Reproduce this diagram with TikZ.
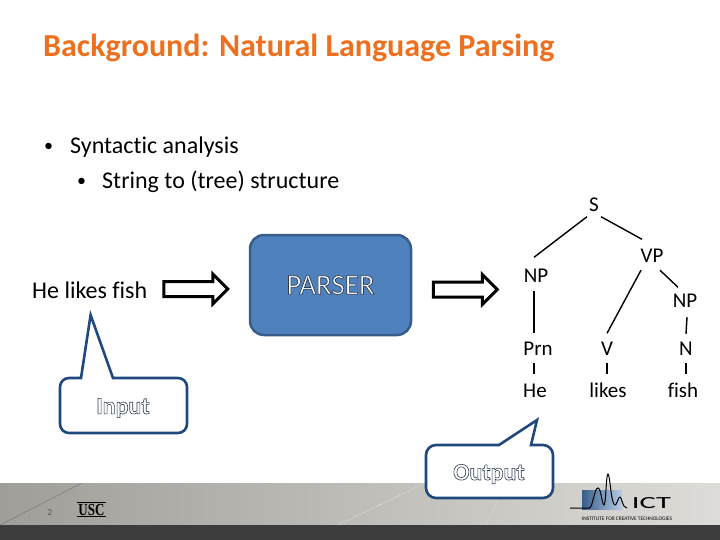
\documentclass[tikz,border=0pt]{standalone}
\usepackage{fontspec}
\setmainfont{Carlito}[Ligatures=NoCommon]
\newfontfamily\uscfont{Liberation Serif}
\usepackage{tikz}
\usetikzlibrary{positioning,shapes.arrows}
\definecolor{TitleOrange}{RGB}{238,112,30}
\definecolor{ParserBlue}{RGB}{79,129,189}
\definecolor{ParserEdge}{RGB}{56,93,138}
\definecolor{CalloutEdge}{RGB}{31,73,125}
\definecolor{StripDark}{RGB}{60,60,60}
\definecolor{BandDark}{RGB}{160,158,152}
\definecolor{BandMid}{RGB}{205,202,197}
\definecolor{BandLight}{RGB}{222,220,216}
\newcommand{\outlined}[2]{{\color{white}\special{pdf:code 2 Tr #1 w 0.18 0.24 0.32 RG}#2\special{pdf:code 0 Tr}}}
\tikzset{
  tree/.style={inner sep=3pt,text height=14pt,text depth=1pt,font=\fontsize{21}{23}\selectfont},
  treeline/.style={line width=1.4pt,draw=black},
  bodytext/.style={inner sep=0pt,anchor=west,font=\fontsize{24}{26}\selectfont},
  blockarrow/.style={single arrow,draw=black,fill=white,line width=3pt,inner xsep=0pt,inner ysep=6pt,
    minimum height=64pt,minimum width=27pt,single arrow head extend=7.5pt},
  callout/.style={draw=CalloutEdge,fill=white,line width=2.6pt},
  calloutword/.style={inner sep=0pt,font=\fontsize{24}{26}\selectfont\bfseries}
}
\begin{document}
\begin{tikzpicture}[x=1pt,y=-1pt]
  \useasboundingbox (0,0) rectangle (720,540);
  % footer band
  \shade[left color=BandDark,middle color=BandMid,right color=BandLight] (0,483) rectangle (720,525);
  \fill[StripDark] (0,525) rectangle (720,540);
  \draw[black!55,thin] (0,525) -- (82,483);
  \draw[white!85!black,thin] (338,525) -- (425,483);
  \draw[white!85!black,thin] (486,525) -- (506,483);
  % heading and bullets
  \node[bodytext,font=\fontsize{32}{34}\selectfont\bfseries,text=TitleOrange] (title) at (43,48) {Background: Natural Language Parsing};
  \node[bodytext,font=\fontsize{18}{20}\selectfont] (bulleta) at (44,147) {•};
  \node[bodytext] (linea) at (70,147) {Syntactic analysis};
  \node[bodytext,font=\fontsize{18}{20}\selectfont] (bulletb) at (77,182) {•};
  \node[bodytext] (lineb) at (102,182) {String to (tree) structure};
  % parser row
  \node[bodytext] (sentence) at (32,290) {He likes fish};
  \node[draw=ParserEdge,fill=ParserBlue,line width=2.5pt,rounded corners=14pt,
    minimum width=161pt,minimum height=100pt,font=\fontsize{29}{31}\selectfont] (parser) at (330.5,285) {\outlined{0.7}{PARSER}};
  \node[blockarrow] (arrowin) at (192,289) {};
  \node[blockarrow] (arrowout) at (461.5,289.5) {};
  % tree
  \node[tree] (s) at (594,205) {S};
  \node[tree] (np) at (536,276) {NP};
  \node[tree] (vp) at (652,256) {VP};
  \node[tree] (npb) at (685,301) {NP};
  \node[tree] (prn) at (538,349) {Prn};
  \node[tree] (v) at (607,349) {V};
  \node[tree] (n) at (686,349) {N};
  \node[tree,below=21pt of prn,xshift=-3pt] (he) {He};
  \node[tree,below=21pt of v,xshift=1pt] (likes) {likes};
  \node[tree,below=21pt of n,xshift=-3pt] (fish) {fish};
  \draw[treeline] ([xshift=1pt,yshift=-1pt]s.south west) -- ([xshift=-2pt,yshift=8pt]np.north);
  \draw[treeline] ([xshift=-1pt,yshift=-1pt]s.south east) -- ([xshift=-10pt,yshift=6pt]vp.north);
  \draw[treeline] ([xshift=-11pt,yshift=-3.5pt]vp.south) -- ([yshift=5pt]v.north);
  \draw[treeline] ([xshift=8pt,yshift=-3.5pt]vp.south) -- ([xshift=-7pt,yshift=3pt]npb.north);
  \draw[treeline] ([xshift=-2pt,yshift=-4.5pt]np.south) -- ([xshift=-4pt,yshift=5.5pt]prn.north);
  \draw[treeline] ([xshift=-4pt,yshift=-3.5pt]prn.south) -- ([xshift=-1pt,yshift=6.5pt]he.north);
  \draw[treeline] ([yshift=-3.5pt]v.south) -- ([xshift=-1pt,yshift=6.5pt]likes.north);
  \draw[treeline] ([xshift=2pt,yshift=-5.5pt]npb.south) -- ([yshift=4.5pt]n.north);
  \draw[treeline] ([yshift=-3.5pt]n.south) -- ([xshift=3pt,yshift=6.5pt]fish.north);
  % callouts
  \draw[callout] (90.6,315) -- (113,378) [rounded corners=9pt] -- (187,378) -- (187,433) -- (60,433) -- (60,378)
    [sharp corners] -- (81,378) -- cycle;
  \node[calloutword] (input) at (123,408) {\outlined{0.6}{Input}};
  \draw[callout] (537,420) -- (531,445) [rounded corners=10pt] -- (553,445) -- (553,498) -- (426,498) -- (426,445)
    [sharp corners] -- (499,445) -- cycle;
  \node[calloutword] (output) at (489,474) {\outlined{0.6}{Output}};
  % footer marks
  \node[inner sep=0pt,font=\fontsize{9}{10}\selectfont,text=black!65] (pagenum) at (50,513) {2};
  \node[inner sep=1pt,font=\fontsize{13}{13}\uscfont\bfseries] (usc) at (91.5,509.5) {\scalebox{1}[1.3]{USC}};
  \draw[black,thin] (usc.north west) -- (usc.north east);
  \draw[black,thin] (usc.south west) -- (usc.south east);
  \shade[left color=ParserEdge,right color=ParserBlue!40] (582,490) rectangle (622,509);
  \draw[black,line width=1pt] (570,508) -- (589,508) .. controls (593,508) and (594,488) .. (598,488)
    .. controls (601,488) and (602,505) .. (604,505) .. controls (606,505) and (606,474) .. (608,474)
    .. controls (610,474) and (611,505) .. (615,505) .. controls (617,505) and (618,497) .. (620,497)
    .. controls (622,497) and (622,508) .. (627,508);
  \node[inner sep=0pt,font=\fontsize{17}{17}\selectfont] (ict) at (651.5,503) {\scalebox{1.8}[1]{ICT}};
  \node[inner sep=0pt,font=\fontsize{5.4}{6}\selectfont] (ictname) at (627,519) {INSTITUTE FOR CREATIVE TECHNOLOGIES};
\end{tikzpicture}
\end{document}
